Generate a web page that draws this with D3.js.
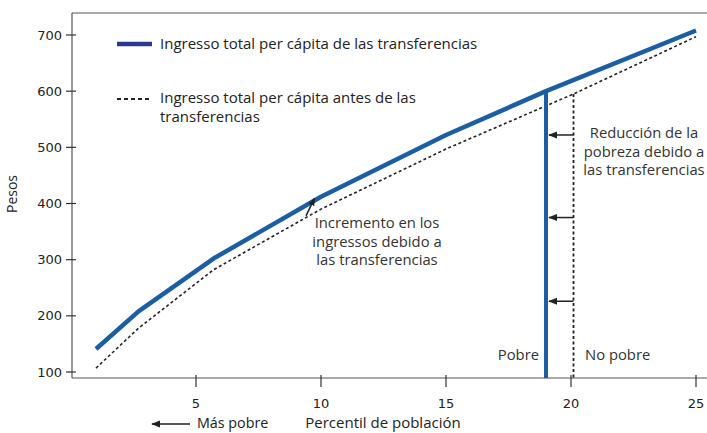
<!DOCTYPE html>
<html><head><meta charset="utf-8">
<script src="https://cdn.jsdelivr.net/npm/d3@7"></script>
<style>body{margin:0;background:#fff}svg{display:block}</style>
</head><body>
<script>
const afterX = [1, 2.7, 5.7, 10, 15, 19, 25];
const afterY = [141, 208, 302, 412, 522, 600, 708];
const beforeX = [1, 2.7, 5.7, 10, 15, 20.1, 25];
const beforeY = [107, 178, 282, 390, 497, 595, 697];
const xTicks = [5, 10, 15, 20, 25];
const yTicks = [100, 200, 300, 400, 500, 600, 700];
const povertyAfter = 19;
const povertyBefore = 20.1;
const arrowYs = [522, 375, 226];

const W = 707, H = 433;
const svg = d3.select("body").append("svg").attr("width", W).attr("height", H);
const x = d3.scaleLinear().domain([0, 25]).range([71, 696]);
const y = d3.scaleLinear().domain([100, 700]).range([372, 35]);
const x0 = 72, yBottom = 378, yTop = 13;
const axisColor = "#555";
const blue = "#1b5ea3";
const fontA = "'DejaVu Sans', Arial, sans-serif";
const fontB = "'Open Sans', 'Noto Sans', sans-serif";
const fs = 14.8;

const defs = svg.append("defs");
defs.append("marker").attr("id", "ah").attr("viewBox", "0 0 10 10").attr("refX", 9).attr("refY", 5)
  .attr("markerWidth", 8).attr("markerHeight", 8).attr("markerUnits", "userSpaceOnUse").attr("orient", "auto")
  .append("path").attr("d", "M0,1 L10,5 L0,9 Z").attr("fill", "#222");
defs.append("marker").attr("id", "ah2").attr("viewBox", "0 0 10 10").attr("refX", 9).attr("refY", 5)
  .attr("markerWidth", 9).attr("markerHeight", 9).attr("markerUnits", "userSpaceOnUse").attr("orient", "auto")
  .append("path").attr("d", "M0,1 L10,5 L0,9 Z").attr("fill", "#222");

// frame lines
svg.append("line").attr("x1", x0).attr("x2", W).attr("y1", yTop).attr("y2", yTop).attr("stroke", axisColor).attr("stroke-width", 1.2);
svg.append("line").attr("x1", x0).attr("x2", x0).attr("y1", yTop).attr("y2", yBottom).attr("stroke", axisColor).attr("stroke-width", 1.2);
svg.append("line").attr("x1", x0).attr("x2", W).attr("y1", yBottom).attr("y2", yBottom).attr("stroke", axisColor).attr("stroke-width", 1.2);

// y ticks
yTicks.forEach(v => {
  svg.append("line").attr("x1", x0 - 6).attr("x2", x0 + 4).attr("y1", y(v)).attr("y2", y(v)).attr("stroke", "#333").attr("stroke-width", 1.2);
  svg.append("text").attr("x", 62).attr("y", y(v) + 4.5).attr("text-anchor", "end")
    .attr("font-family", fontA).attr("font-size", 13).attr("fill", "#222").text(v);
});
// x ticks
xTicks.forEach(v => {
  svg.append("line").attr("x1", x(v)).attr("x2", x(v)).attr("y1", yBottom - 3).attr("y2", yBottom + 9).attr("stroke", "#333").attr("stroke-width", 1.2);
  svg.append("text").attr("x", x(v)).attr("y", 408).attr("text-anchor", "middle")
    .attr("font-family", fontA).attr("font-size", 13).attr("fill", "#222").text(v);
});

const line = d3.line().x(d => x(d[0])).y(d => y(d[1]));
const beforeData = beforeX.map((v, i) => [v, beforeY[i]]);
const afterData = afterX.map((v, i) => [v, afterY[i]]);

svg.append("path").datum(beforeData).attr("d", line).attr("fill", "none").attr("stroke", "#222")
  .attr("stroke-width", 1.6).attr("stroke-dasharray", "3,2.5");
svg.append("path").datum(afterData).attr("d", line).attr("fill", "none").attr("stroke", blue)
  .attr("stroke-width", 4.5).attr("stroke-linejoin", "round");

// verticals
svg.append("line").attr("x1", x(povertyBefore)).attr("x2", x(povertyBefore)).attr("y1", y(595)).attr("y2", yBottom)
  .attr("stroke", "#222").attr("stroke-width", 1.8).attr("stroke-dasharray", "3,2.5");
svg.append("line").attr("x1", x(povertyAfter)).attr("x2", x(povertyAfter)).attr("y1", y(600)).attr("y2", yBottom)
  .attr("stroke", blue).attr("stroke-width", 4);

// arrows between verticals
arrowYs.forEach(v => {
  svg.append("line").attr("x1", x(povertyBefore)).attr("x2", x(povertyAfter) + 3).attr("y1", y(v)).attr("y2", y(v))
    .attr("stroke", "#222").attr("stroke-width", 1.5).attr("marker-end", "url(#ah2)");
});
// increment arrow
svg.append("line").attr("x1", x(9.4)).attr("x2", x(9.74)).attr("y1", y(378)).attr("y2", y(409))
  .attr("stroke", "#222").attr("stroke-width", 1.5).attr("marker-end", "url(#ah)");

// legend
svg.append("line").attr("x1", 117).attr("x2", 152).attr("y1", 44).attr("y2", 44).attr("stroke", "#2b3a8f").attr("stroke-width", 4.5);
svg.append("text").attr("x", 160).attr("y", 49).attr("font-family", fontB).attr("font-size", 15).attr("fill", "#222")
  .text("Ingresso total per cápita de las transferencias");
svg.append("line").attr("x1", 117).attr("x2", 152).attr("y1", 99).attr("y2", 99).attr("stroke", "#222").attr("stroke-width", 2).attr("stroke-dasharray", "4,3");
svg.append("text").attr("x", 160).attr("y", 103).attr("font-family", fontB).attr("font-size", 15).attr("fill", "#222")
  .text("Ingresso total per cápita antes de las");
svg.append("text").attr("x", 160).attr("y", 122).attr("font-family", fontB).attr("font-size", 15).attr("fill", "#222")
  .text("transferencias");

function block(cx, y0, lines) {
  lines.forEach((t, i) => svg.append("text").attr("x", cx).attr("y", y0 + i * 18.7).attr("text-anchor", "middle")
    .attr("font-family", fontB).attr("font-size", fs).attr("fill", "#333").text(t));
}
block(377, 228, ["Incremento en los", "ingressos debido a", "las transferencias"]);
block(644, 138, ["Reducción de la", "pobreza debido a", "las transferencias"]);

svg.append("text").attr("x", 539).attr("y", 360).attr("text-anchor", "end").attr("font-family", fontB)
  .attr("font-size", fs).attr("fill", "#333").text("Pobre");
svg.append("text").attr("x", 585).attr("y", 360).attr("font-family", fontB)
  .attr("font-size", fs).attr("fill", "#333").text("No pobre");

// y label
svg.append("text").attr("transform", "translate(17,194) rotate(-90)").attr("text-anchor", "middle")
  .attr("font-family", fontB).attr("font-size", 14).attr("fill", "#222").text("Pesos");

// bottom labels
svg.append("line").attr("x1", 190).attr("x2", 152).attr("y1", 424).attr("y2", 424).attr("stroke", "#222").attr("stroke-width", 1.5).attr("marker-end", "url(#ah2)");
svg.append("text").attr("x", 197).attr("y", 428).attr("font-family", fontB).attr("font-size", 14.3).attr("fill", "#222").text("Más pobre");
svg.append("text").attr("x", 383).attr("y", 428).attr("text-anchor", "middle").attr("font-family", fontB).attr("font-size", 15).attr("fill", "#222").text("Percentil de población");
</script>
</body></html>
